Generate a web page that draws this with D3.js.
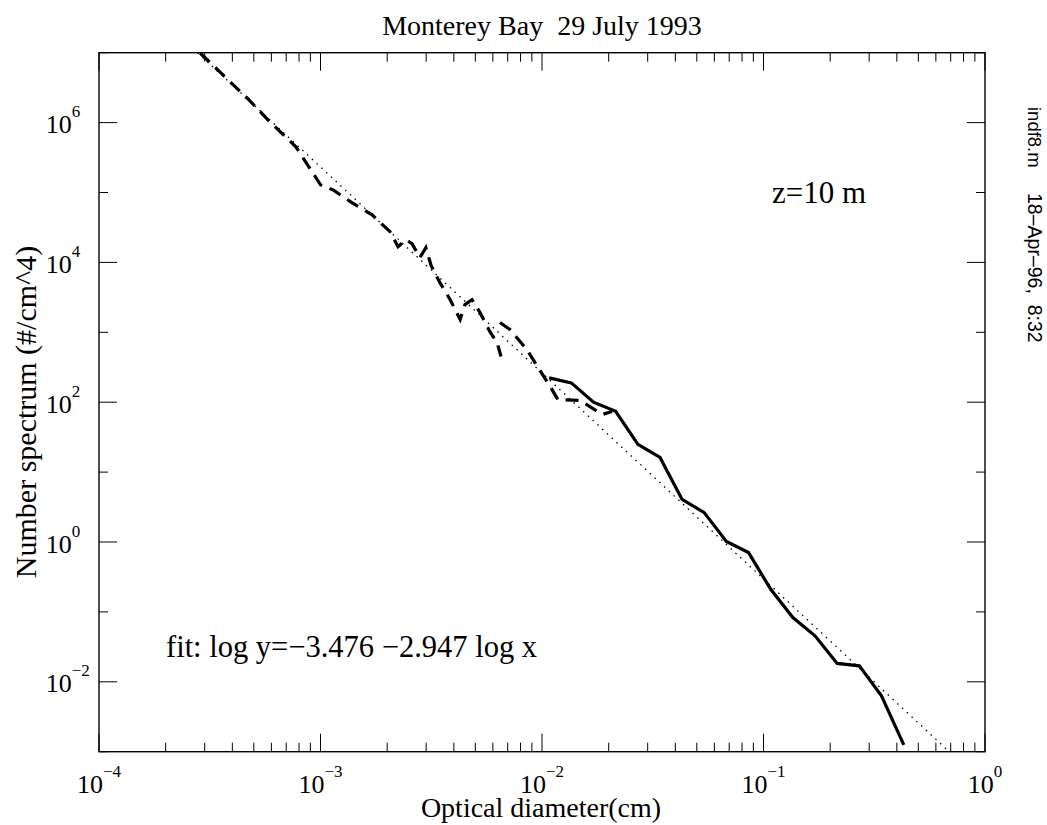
<!DOCTYPE html>
<html>
<head>
<meta charset="utf-8">
<script src="https://cdn.jsdelivr.net/npm/d3@7"></script>
<style>
  html, body { margin: 0; padding: 0; background: #fff; }
  svg { display: block; }
  text { font-family: "Liberation Serif", "Times New Roman", serif; fill: #000; }
  .stamp { font-family: "Liberation Sans", Arial, sans-serif; white-space: pre; }
</style>
</head>
<body>
<svg id="chart" width="1047" height="825"></svg>
<script>
// Optical diameter (cm) and number spectrum (#/cm^4), small-particle sensor, first pass
const dashA_x = [2.86e-4, 3.59e-4, 4.66e-4, 5.92e-4, 7.74e-4, 9.55e-4, 1.00e-3, 1.14e-3, 1.39e-3,
                 1.71e-3, 2.06e-3, 2.24e-3, 2.43e-3, 2.59e-3, 2.81e-3, 2.99e-3, 3.16e-3, 3.46e-3,
                 3.85e-3, 4.27e-3, 4.49e-3, 4.83e-3, 5.25e-3, 5.82e-3, 6.27e-3, 6.53e-3];
const dashA_y = [9.9e6, 4.97e6, 2.25e6, 1.02e6, 4.5e5, 1.62e5, 1.29e5, 1.09e5, 7.1e4,
                 4.8e4, 2.75e4, 1.68e4, 2.11e4, 1.85e4, 1.17e4, 1.62e4, 8.97e3, 5.13e3,
                 2.93e3, 1.52e3, 2.49e3, 2.93e3, 1.91e3, 1.02e3, 713, 450];
// second pass of the same sensor, overlapping the large-particle range
const dashB_x = [6.46e-3, 7.18e-3, 8.55e-3, 9.6e-3, 1.09e-2, 1.18e-2, 1.49e-2, 1.87e-2, 2.07e-2];
const dashB_y = [1.38e3, 1.09e3, 566, 313, 167, 109, 106, 66.7, 73.6];
// large-particle sensor
const solid_x = [0.01077, 0.01356, 0.01708, 0.0215, 0.0271, 0.0341, 0.0429, 0.0540, 0.0680,
                 0.0856, 0.1078, 0.1357, 0.1708, 0.2151, 0.2708, 0.3409, 0.43];
const solid_y = [223, 189, 100, 74, 24.9, 16.2, 4.07, 2.63, 1.02,
                 0.706, 0.211, 0.083, 0.0454, 0.0183, 0.0169, 0.0063, 0.00125];
// least-squares fit in log space: log y = a + b log x
const fitA = -3.476, fitB = -2.947;

const xDecades = [-4, -3, -2, -1, 0];          // labelled x exponents
const yDecades = [-3, -2, -1, 0, 1, 2, 3, 4, 5, 6, 7];
const yLabelled = [-2, 0, 2, 4, 6];            // labelled y exponents

const margin = { left: 99, right: 985, top: 52.7, bottom: 751.7 };
const svg = d3.select("#chart");

const x = d3.scaleLog().domain([1e-4, 1]).range([margin.left, margin.right]);
const y = d3.scaleLog().domain([1e-3, 1e7]).range([margin.bottom, margin.top]);

svg.append("defs").append("clipPath").attr("id", "plotClip")
  .append("rect")
  .attr("x", margin.left).attr("y", margin.top)
  .attr("width", margin.right - margin.left).attr("height", margin.bottom - margin.top);

const plot = svg.append("g").attr("clip-path", "url(#plotClip)");
const line = d3.line().x(d => x(d[0])).y(d => y(d[1]));

// fitted power law, dotted
const fitLo = Math.pow(10, (Math.log10(1e7) - fitA) / fitB);
const fitHi = Math.pow(10, (Math.log10(1e-3) - fitA) / fitB);
const fitPts = [fitLo, fitHi].map(v => [v, Math.pow(10, fitA + fitB * Math.log10(v))]);
plot.append("path").attr("d", line(fitPts))
  .attr("fill", "none").attr("stroke", "#000").attr("stroke-width", 1.3)
  .attr("stroke-dasharray", "1.5,5");

const zip = (a, b) => a.map((v, i) => [v, b[i]]);
[zip(dashA_x, dashA_y), zip(dashB_x, dashB_y)].forEach(pts => {
  plot.append("path").attr("d", line(pts))
    .attr("fill", "none").attr("stroke", "#000").attr("stroke-width", 3.2)
    .attr("stroke-dasharray", "13,8").attr("stroke-linejoin", "miter");
});
plot.append("path").attr("d", line(zip(solid_x, solid_y)))
  .attr("fill", "none").attr("stroke", "#000").attr("stroke-width", 3.2)
  .attr("stroke-linejoin", "miter");

// frame
svg.append("rect")
  .attr("x", margin.left).attr("y", margin.top)
  .attr("width", margin.right - margin.left).attr("height", margin.bottom - margin.top)
  .attr("fill", "none").attr("stroke", "#000").attr("stroke-width", 1.4);

const ticks = svg.append("g").attr("stroke", "#000").attr("stroke-width", 1);

// x ticks: decades long, 2..9 short, on bottom and top
xDecades.forEach((e, i) => {
  const base = Math.pow(10, e);
  const xp = x(base);
  ticks.append("line").attr("x1", xp).attr("x2", xp).attr("y1", margin.bottom).attr("y2", margin.bottom - 18);
  ticks.append("line").attr("x1", xp).attr("x2", xp).attr("y1", margin.top).attr("y2", margin.top + 18);
  if (i < xDecades.length - 1) {
    for (let m = 2; m <= 9; m++) {
      const xm = x(m * base);
      ticks.append("line").attr("x1", xm).attr("x2", xm).attr("y1", margin.bottom).attr("y2", margin.bottom - 9);
      ticks.append("line").attr("x1", xm).attr("x2", xm).attr("y1", margin.top).attr("y2", margin.top + 9);
    }
  }
});

// y ticks: labelled decades long, others short, on left and right
yDecades.forEach(e => {
  const yp = y(Math.pow(10, e));
  const len = yLabelled.includes(e) ? 18 : 9;
  ticks.append("line").attr("x1", margin.left).attr("x2", margin.left + len).attr("y1", yp).attr("y2", yp);
  ticks.append("line").attr("x1", margin.right).attr("x2", margin.right - len).attr("y1", yp).attr("y2", yp);
});

const expText = e => (e < 0 ? "\u2212" + (-e) : String(e));

// x tick labels
xDecades.forEach(e => {
  const t = svg.append("text")
    .attr("x", x(Math.pow(10, e))).attr("y", 792.7)
    .attr("text-anchor", "middle");
  t.append("tspan").attr("font-size", 26).text("10");
  t.append("tspan").attr("font-size", 17).attr("dy", -16).text(expText(e));
});

// y tick labels
yLabelled.forEach(e => {
  const t = svg.append("text")
    .attr("x", 45.7).attr("y", y(Math.pow(10, e)) + 10.6);
  t.append("tspan").attr("font-size", 26).text("10");
  t.append("tspan").attr("font-size", 17).attr("dy", -16).text(expText(e));
});

// titles
svg.append("text").attr("x", 542).attr("y", 35).attr("text-anchor", "middle")
  .attr("font-size", 28).style("white-space", "pre").text("Monterey Bay  29 July 1993");
svg.append("text").attr("x", 541).attr("y", 817).attr("text-anchor", "middle")
  .attr("font-size", 28).text("Optical diameter(cm)");
svg.append("text")
  .attr("transform", "translate(36,412) rotate(-90)")
  .attr("text-anchor", "middle").attr("font-size", 30)
  .text("Number spectrum (#/cm^4)");

// annotations
svg.append("text").attr("x", 772).attr("y", 203.3).attr("font-size", 31).text("z=10 m");
svg.append("text").attr("x", 166).attr("y", 656.7).attr("font-size", 30.5)
  .text("fit: log y=\u22123.476 \u22122.947 log x");

// file stamp along the right edge
svg.append("text").attr("class", "stamp").attr("transform", "translate(1028,107) rotate(90)")
  .attr("font-size", 18.5).text("indf8.m");
svg.append("text").attr("class", "stamp").attr("transform", "translate(1028,193) rotate(90)")
  .attr("font-size", 19.5).text("18\u2013Apr\u201396,  8:32");
</script>
</body>
</html>
